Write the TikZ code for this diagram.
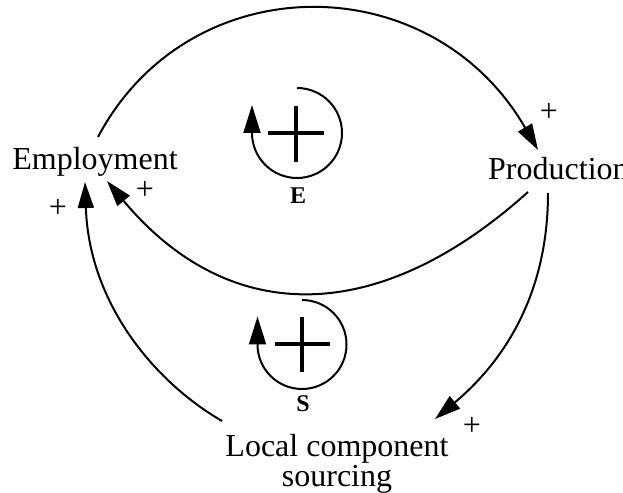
\documentclass[tikz,border=0pt]{standalone}
\usepackage{fontspec}
\setmainfont{Liberation Serif}
\usetikzlibrary{arrows.meta}
\tikzset{
    var/.style={font=\fontsize{32}{30}\selectfont, inner sep=0pt, align=center},
    pol/.style={font=\fontsize{32}{30}\selectfont, inner sep=0pt},
    link/.style={line width=2pt, -{Triangle[length=26pt,width=16pt]}},
    loopname/.style={font=\fontsize{24}{24}\selectfont\bfseries, inner sep=0pt},
    loopsym/.style={line width=2pt, -{Triangle[length=28pt,width=17pt]}},
    cross/.style={line width=4pt}
}
\begin{document}
\begin{tikzpicture}[x=1pt,y=1pt]
    \useasboundingbox (0,0) rectangle (623,492);

    %variables
    \node[var, anchor=base] (emp) at (95,322) {Employment};
    \node[var, anchor=base west] (prod) at (488,312) {Production};
    \node[var, anchor=north] (local) at (337,58) {Local component\\sourcing};

    %links
    \draw[link] ([shift={(3,33)}]emp.base) .. controls +(91,172) and +(-107,185) .. ([shift={(50,30)}]prod.base west);
    \draw[link] ([shift={(40,-12)}]prod.base west) .. controls +(-150,-135) and +(122,-146) .. ([shift={(12,-11)}]emp.base);
    \draw[link] ([shift={(60,-13)}]prod.base west) .. controls +(0,-110) and +(61,51) .. ([shift={(98,15)}]local.north);
    \draw[link] ([shift={(-115,13)}]local.north) .. controls +(-69,40) and +(4,-120) .. ([shift={(-10,-12)}]emp.base);

    %polarities
    \node[pol] (pprod) at (549,380) {+};
    \node[pol] (pemp) at (145,302) {+};
    \node[pol] (plocemp) at (58,284) {+};
    \node[pol] (plocal) at (472,66) {+};

    %loop E
    \draw[loopsym] (297,404) arc[start angle=90, end angle=-180, radius=45] -- ++(0,28);
    \draw[cross] (268,359) -- (324,359) (296,386) -- (296,330);
    \node[loopname] (loopE) at (298,296) {E};

    %loop S
    \draw[loopsym] (302,192) arc[start angle=90, end angle=-180, radius=44.5] -- ++(0,28);
    \draw[cross] (275,148) -- (330,148) (302,175) -- (302,120);
    \node[loopname] (loopS) at (303,88) {S};
\end{tikzpicture}
\end{document}
